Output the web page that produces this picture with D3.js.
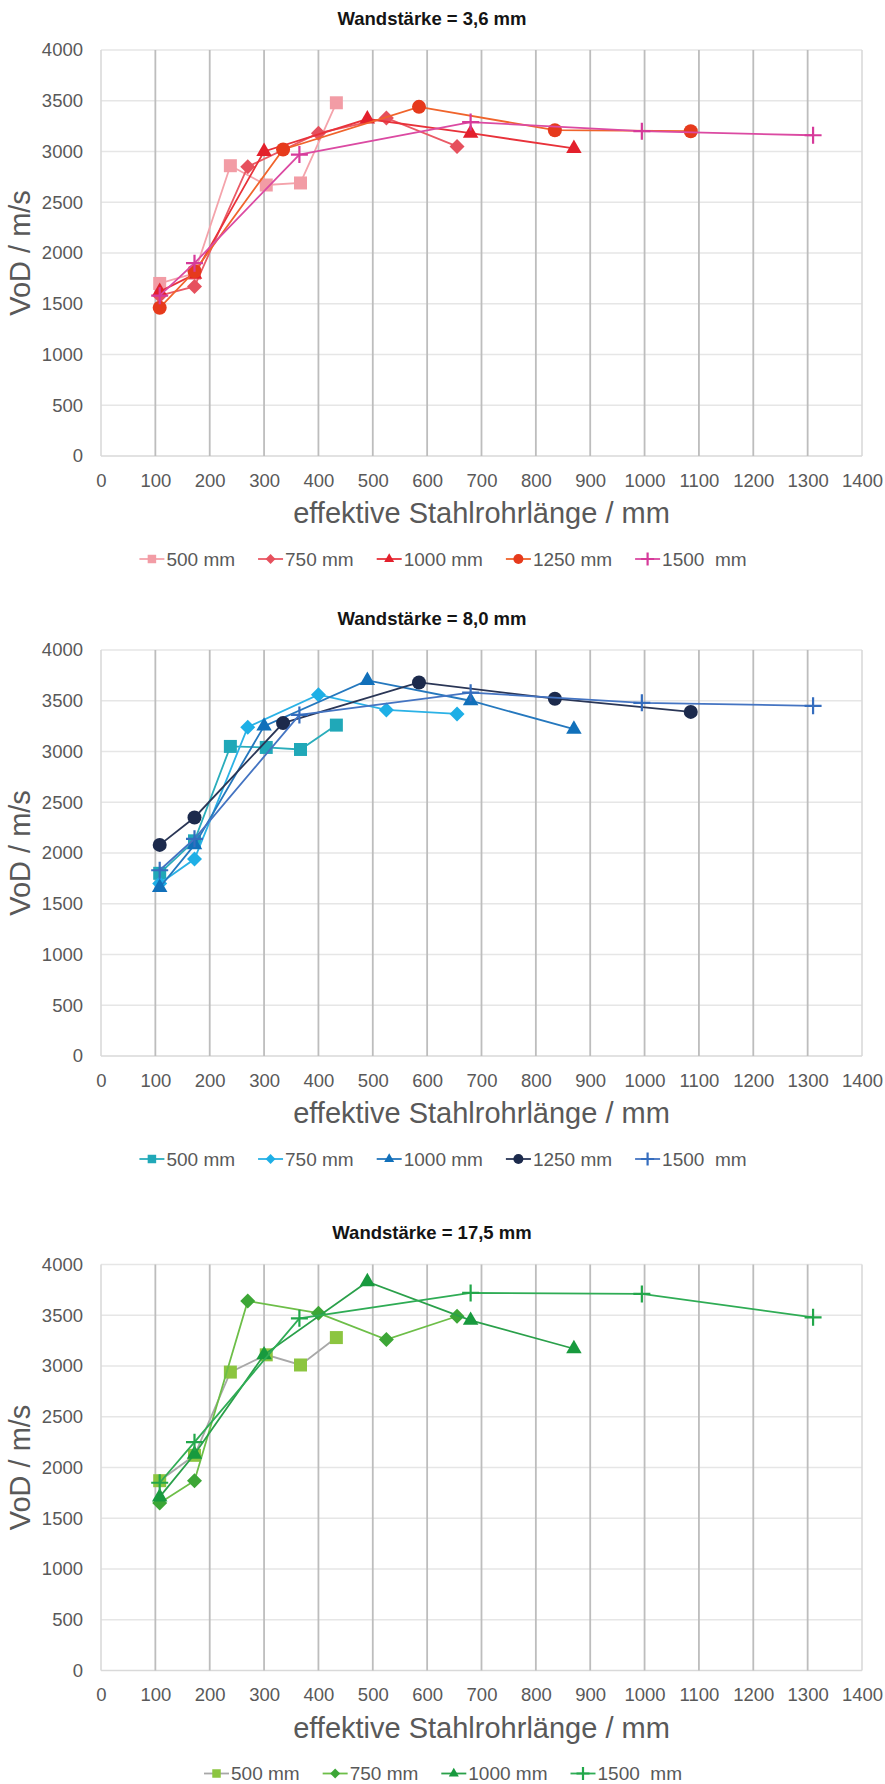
<!DOCTYPE html>
<html><head><meta charset="utf-8">
<script src="https://cdn.jsdelivr.net/npm/d3@7"></script>
<style>
html,body{margin:0;padding:0;background:#fff;}
text{font-family:"Liberation Sans",Arial,sans-serif;}
</style></head>
<body>
<svg id="c" width="885" height="1784"></svg>
<script>
// ---------- data ----------
const xTickValues = [0,100,200,300,400,500,600,700,800,900,1000,1100,1200,1300,1400];
const yTickValues = [0,500,1000,1500,2000,2500,3000,3500,4000];
const chartTitles = ["Wandstärke = 3,6 mm","Wandstärke = 8,0 mm","Wandstärke = 17,5 mm"];
const xAxisTitle = "effektive Stahlrohrlänge / mm";
const yAxisTitle = "VoD / m/s";
const seriesNames = ["500 mm","750 mm","1000 mm","1250 mm","1500  mm"];

// effective tube length positions (x) per tube length series
const x500  = [108,172,238,304,367,433];
const x750  = [108,172,270,400,525,655];
const x1000 = [108,172,300,490,680,870];
const x1250 = [108,172,335,585,835,1085];
const x1500 = [108,172,365,680,995,1310];

// Wandstärke 3,6 mm
const w36_500  = [1700,1800,2860,2670,2690,3480];
const w36_750  = [1580,1670,2850,3180,3330,3050];
const w36_1000 = [1620,1790,3000,3320,3180,3030];
const w36_1250 = [1460,1820,3020,3440,3210,3200];
const w36_1500 = [1580,1900,2970,3290,3200,3160];
// Wandstärke 8,0 mm
const w80_500  = [1800,2120,3050,3040,3020,3260];
const w80_750  = [1700,1940,3240,3560,3410,3370];
const w80_1000 = [1660,2080,3250,3700,3500,3220];
const w80_1250 = [2080,2350,3280,3680,3520,3390];
const w80_1500 = [1830,2140,3360,3580,3480,3450];
// Wandstärke 17,5 mm
const w175_500  = [1870,2120,2940,3110,3010,3280];
const w175_750  = [1650,1870,3640,3520,3260,3490];
const w175_1000 = [1710,2130,3110,3830,3450,3170];
const w175_1500 = [1850,2250,3470,3720,3710,3480];

// ---------- styling ----------
const shapes = ["square","diamond","triangle","circle","plus"];
const charts = [
  {off:0, title:chartTitles[0], series:[
    {name:seriesNames[0], xs:x500,  ys:w36_500,  shape:"square",   color:"#F29CA5", line:"#F4A3AB"},
    {name:seriesNames[1], xs:x750,  ys:w36_750,  shape:"diamond",  color:"#E6505D", line:"#EA5A66"},
    {name:seriesNames[2], xs:x1000, ys:w36_1000, shape:"triangle", color:"#E3202C", line:"#E8323A"},
    {name:seriesNames[3], xs:x1250, ys:w36_1250, shape:"circle",   color:"#E63A1C", line:"#F0642C"},
    {name:seriesNames[4], xs:x1500, ys:w36_1500, shape:"plus",     color:"#D63A9A", line:"#DB4AA2"}
  ]},
  {off:600, title:chartTitles[1], series:[
    {name:seriesNames[0], xs:x500,  ys:w80_500,  shape:"square",   color:"#20A8B8", line:"#2AADBB"},
    {name:seriesNames[1], xs:x750,  ys:w80_750,  shape:"diamond",  color:"#1EAFE6", line:"#2BB2E6"},
    {name:seriesNames[2], xs:x1000, ys:w80_1000, shape:"triangle", color:"#1170BA", line:"#2578BE"},
    {name:seriesNames[3], xs:x1250, ys:w80_1250, shape:"circle",   color:"#1C2A4C", line:"#2A3656"},
    {name:seriesNames[4], xs:x1500, ys:w80_1500, shape:"plus",     color:"#356DBE", line:"#4474C2"}
  ]},
  {off:1214.5, title:chartTitles[2], series:[
    {name:seriesNames[0], xs:x500,  ys:w175_500,  shape:"square",   color:"#8CC540", line:"#A8A8A8"},
    {name:seriesNames[1], xs:x750,  ys:w175_750,  shape:"diamond",  color:"#3CA636", line:"#6DBE48"},
    {name:seriesNames[2], xs:x1000, ys:w175_1000, shape:"triangle", color:"#189A3E", line:"#2AA04A"},
    {name:seriesNames[4], xs:x1500, ys:w175_1500, shape:"plus",     color:"#22A74A", line:"#2FAC55"}
  ]}
];

const svg = d3.select("#c");
svg.append("rect").attr("width",885).attr("height",1784).attr("fill","#fff");

const PL = 101, PR = 862, PT = 50, PB = 456;
const x = d3.scaleLinear().domain([0,1400]).range([PL,PR]);

function marker(g, shape, cx, cy, color, big){
  const k = big ? 1 : 0.62;
  if(shape==="plus"){
    const a = (big?8.5:6.5);
    g.append("path").attr("d",`M${cx-a},${cy}H${cx+a}M${cx},${cy-a}V${cx+0?cy+a:cy+a}`)
      .attr("stroke",color).attr("stroke-width",2.2).attr("fill","none");
    return;
  }
  let sym, size, rot=0;
  if(shape==="square"){ sym=d3.symbolSquare; size=(big?13:8.5)**2; }
  else if(shape==="diamond"){ sym=d3.symbolSquare; size=(big?10.6:7)**2; rot=45; }
  else if(shape==="triangle"){ sym=d3.symbolTriangle; const s=big?15.5:10; size=Math.sqrt(3)/4*s*s; }
  else { sym=d3.symbolCircle; const r=big?7:5; size=Math.PI*r*r; }
  g.append("path").attr("d", d3.symbol().type(sym).size(size)())
    .attr("transform",`translate(${cx},${cy}) rotate(${rot})`)
    .attr("fill",color);
}

charts.forEach(ch=>{
  const g = svg.append("g").attr("transform",`translate(0,${ch.off})`);
  const y = d3.scaleLinear().domain([0,4000]).range([PB,PT]);

  // horizontal gridlines
  g.append("g").selectAll("line").data(yTickValues).join("line")
    .attr("x1",PL).attr("x2",PR).attr("y1",d=>y(d)).attr("y2",d=>y(d))
    .attr("stroke",d=>d===0?"#D9D9D9":"#E6E6E6").attr("stroke-width",1.6);
  // vertical gridlines
  g.append("g").selectAll("line").data(xTickValues).join("line")
    .attr("x1",d=>x(d)).attr("x2",d=>x(d)).attr("y1",PT).attr("y2",PB)
    .attr("stroke",d=>(d===0||d===1400)?"#DADADA":"#BDBDBD")
    .attr("stroke-width",d=>(d===0||d===1400)?1.6:1.8);

  // axes (labels only)
  const ya = g.append("g").attr("transform",`translate(${PL},0)`)
    .call(d3.axisLeft(y).tickValues(yTickValues).tickSize(0).tickPadding(18).tickFormat(d3.format("d")));
  const xa = g.append("g").attr("transform",`translate(0,${PB})`)
    .call(d3.axisBottom(x).tickValues(xTickValues).tickSize(0).tickPadding(17.5).tickFormat(d3.format("d")));
  [ya,xa].forEach(a=>{
    a.select(".domain").remove();
    a.selectAll("text").attr("fill","#595959").style("font-size","18.5px")
      .style("font-family",'"Liberation Sans",Arial,sans-serif');
  });

  // title
  g.append("text").attr("x",432).attr("y",18).attr("dy","0.36em").attr("text-anchor","middle")
    .style("font-size","18.5px").style("font-weight","bold").attr("fill","#141414").text(ch.title);
  // axis titles
  g.append("text").attr("x",(PL+PR)/2).attr("y",513).attr("dy","0.36em").attr("text-anchor","middle")
    .style("font-size","29px").attr("fill","#595959").text(xAxisTitle);
  g.append("text").attr("transform",`translate(20,${(PT+PB)/2}) rotate(-90)`).attr("dy","0.36em")
    .attr("text-anchor","middle").style("font-size","29px").attr("fill","#595959").text(yAxisTitle);

  // series
  ch.series.forEach(s=>{
    const pts = s.xs.map((xv,i)=>[x(xv), y(s.ys[i])]);
    g.append("path").attr("d", d3.line()(pts)).attr("fill","none")
      .attr("stroke",s.line).attr("stroke-width",1.8);
    const mg = g.append("g");
    pts.forEach(p=>marker(mg, s.shape, p[0], p[1], s.color, true));
  });

  // legend
  const lg = g.append("g");
  const ly = 559;
  let items = [];
  let cur = 0;
  ch.series.forEach(s=>{
    const it = lg.append("g");
    it.append("line").attr("x1",0).attr("x2",25).attr("y1",ly).attr("y2",ly)
      .attr("stroke",s.line).attr("stroke-width",1.8);
    marker(it, s.shape, 12.5, ly, s.color, false);
    const t = it.append("text").attr("x",27).attr("y",ly).attr("dy","0.36em")
      .style("font-size","19px").style("white-space","pre").attr("xml:space","preserve")
      .attr("fill","#595959").text(s.name);
    const w = 27 + t.node().getComputedTextLength();
    items.push({it, pos:cur});
    cur += w + 23;
  });
  const total = cur - 23;
  const start = 443 - total/2;
  items.forEach(o=>o.it.attr("transform",`translate(${start+o.pos},0)`));
});
</script>
</body></html>
